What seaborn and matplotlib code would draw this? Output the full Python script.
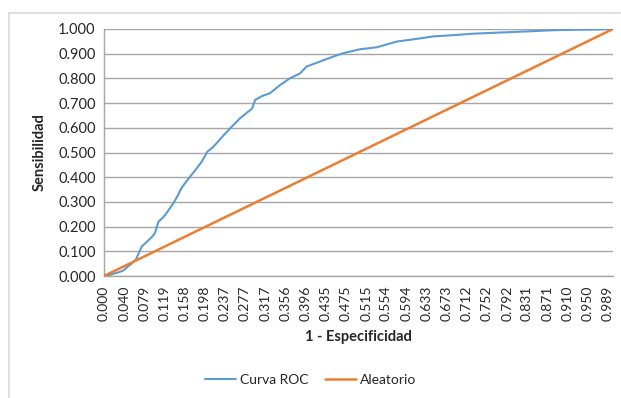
import numpy as np
import pandas as pd
import matplotlib
matplotlib.use("Agg")
import matplotlib.pyplot as plt
import seaborn as sns
from matplotlib.patches import Rectangle

roc_fpr = [0.000, 0.010, 0.020, 0.030, 0.038, 0.045, 0.054, 0.063, 0.074, 0.085,
           0.095, 0.100, 0.104, 0.107, 0.115, 0.120, 0.128, 0.136, 0.144, 0.152,
           0.160, 0.169, 0.180, 0.192, 0.203, 0.212, 0.221, 0.235, 0.248, 0.267,
           0.280, 0.291, 0.297, 0.310, 0.326, 0.346, 0.365, 0.385, 0.398, 0.424,
           0.450, 0.470, 0.503, 0.536, 0.575, 0.614, 0.647, 0.693, 0.725, 0.770,
           0.817, 0.882, 0.930, 0.968, 1.000]
roc_tpr = [0.000, 0.004, 0.010, 0.016, 0.022, 0.035, 0.050, 0.068, 0.119, 0.140,
           0.160, 0.173, 0.200, 0.220, 0.235, 0.247, 0.270, 0.294, 0.322, 0.355,
           0.378, 0.402, 0.430, 0.463, 0.503, 0.518, 0.537, 0.570, 0.598, 0.638,
           0.660, 0.678, 0.713, 0.728, 0.740, 0.773, 0.800, 0.820, 0.848, 0.868,
           0.888, 0.902, 0.918, 0.926, 0.949, 0.960, 0.970, 0.976, 0.981, 0.985,
           0.989, 0.995, 0.997, 0.998, 1.000]
rand_x = [0.0, 1.0]
rand_y = [0.0, 1.0]

x_tick_labels = ["0.000", "0.040", "0.079", "0.119", "0.158", "0.198", "0.237",
                 "0.277", "0.317", "0.356", "0.396", "0.435", "0.475", "0.515",
                 "0.554", "0.594", "0.633", "0.673", "0.712", "0.752", "0.792",
                 "0.831", "0.871", "0.910", "0.950", "0.989"]
y_tick_labels = ["0.000", "0.100", "0.200", "0.300", "0.400", "0.500",
                 "0.600", "0.700", "0.800", "0.900", "1.000"]

sns.set_style("white")
plt.rcParams["font.family"] = ["Lato", "DejaVu Sans"]

fig = plt.figure(figsize=(6.21, 3.98), dpi=100)
ax = fig.add_axes([104/621, 1-276/398, 509/621, 247/398])

grid_c = "#A6A6A6"
blue = "#5B9BD5"
orange = "#ED7D31"

sns.lineplot(x=roc_fpr, y=roc_tpr, ax=ax, color=blue, linewidth=1.5, label="Curva ROC", zorder=3)
sns.lineplot(x=rand_x, y=rand_y, ax=ax, color=orange, linewidth=1.8, label="Aleatorio", zorder=3)

ax.set_xlim(0, 1)
ax.set_ylim(0, 1)
ax.set_yticks([float(v) for v in y_tick_labels])
ax.set_yticklabels(y_tick_labels, fontsize=10.5)
ax.set_xticks([float(v) for v in x_tick_labels])
ax.set_xticklabels(x_tick_labels, rotation=90, fontsize=10)
ax.set_xticks(np.arange(0, 1.0001, 0.00396), minor=True)
ax.tick_params(axis="x", which="both", length=4, color=grid_c, width=0.8, direction="out", pad=3)
ax.tick_params(axis="y", length=0, pad=6)
ax.yaxis.grid(True, color=grid_c, linewidth=1)
ax.xaxis.grid(False)
for s in ["top", "right"]:
    ax.spines[s].set_visible(False)
for s in ["left", "bottom"]:
    ax.spines[s].set_color(grid_c)
    ax.spines[s].set_linewidth(1)

ax.set_xlabel("1 - Especificidad", fontsize=10.5, fontweight="bold", labelpad=6)
ax.set_ylabel("Sensibilidad", fontsize=10.5, fontweight="bold", labelpad=8)

ax.legend_.remove()
h, l = ax.get_legend_handles_labels()
fig.legend(h, l, loc="center", bbox_to_anchor=(0.5, 1-380/398), ncol=2, frameon=False,
           fontsize=10, handlelength=2.25, columnspacing=1.2, handletextpad=0.25)

fig.patches.append(Rectangle((9/621, -0.05), 1.2, 1-12.5/398+0.05, transform=fig.transFigure,
                             fill=False, edgecolor="#D9D9D9", linewidth=1.2))

fig.savefig("out.png", dpi=100)
